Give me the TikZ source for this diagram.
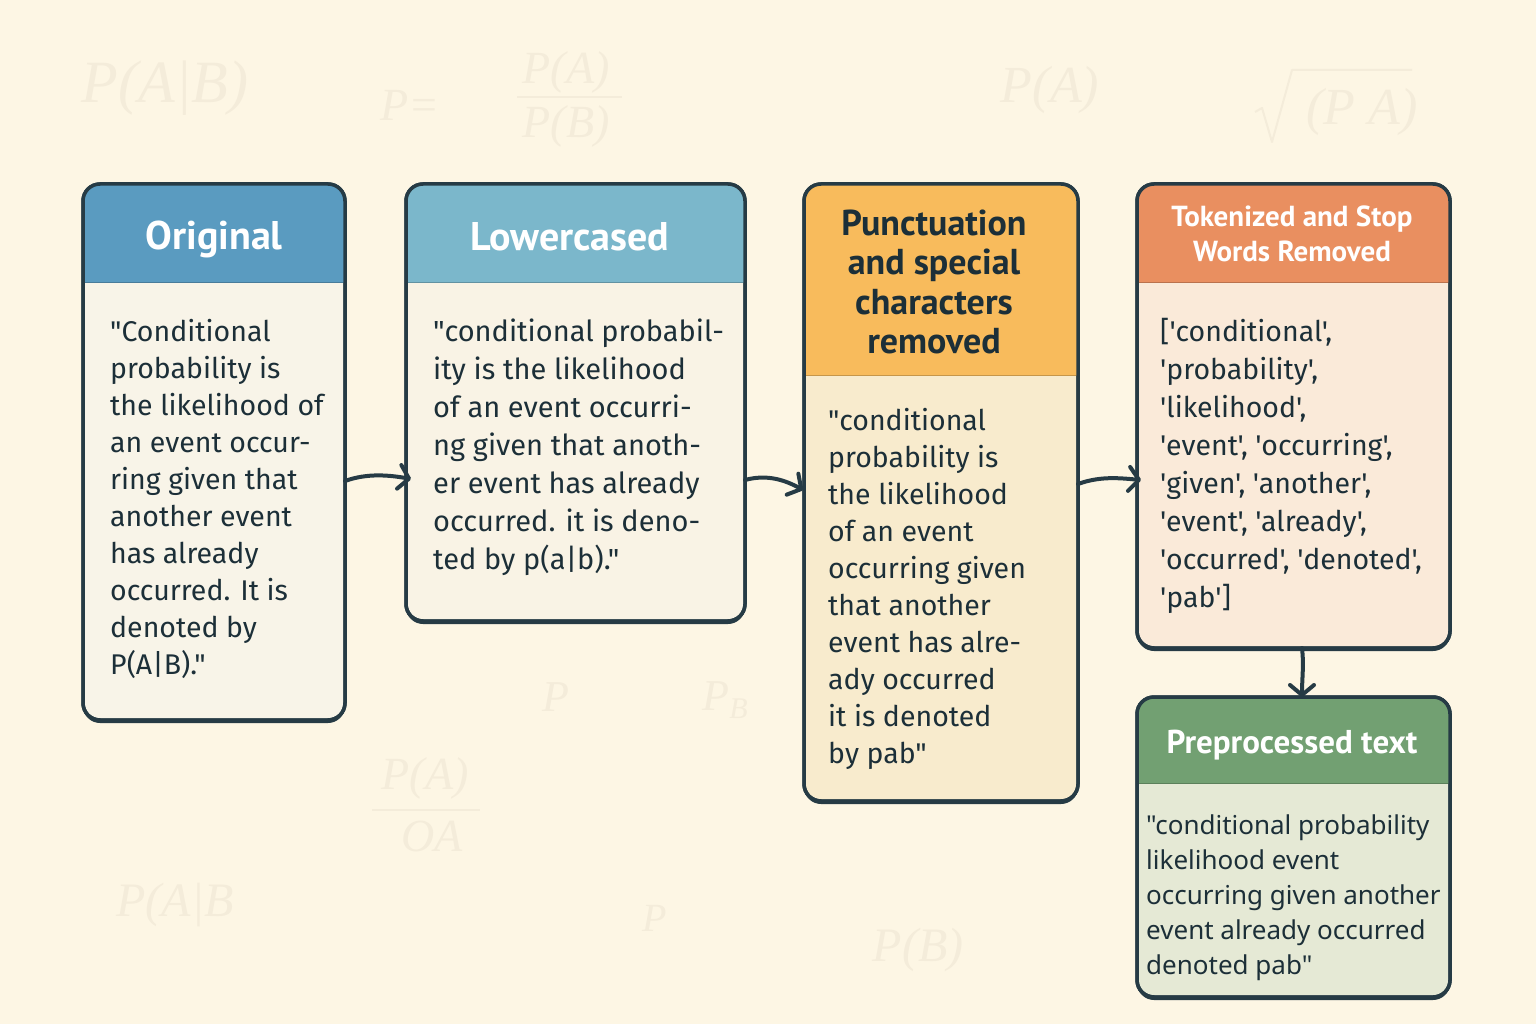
\documentclass[tikz,border=0pt]{standalone}
\usepackage{fontspec}
\setmainfont{PT Sans}
\newfontfamily\bodyfont{Fira Sans}
\newfontfamily\notofont{Noto Sans}
\newfontfamily\wmfont{Liberation Serif}
\usetikzlibrary{arrows.meta,calc}
\definecolor{bg}{HTML}{FDF6E4}
\definecolor{wm}{HTML}{F4ECDA}
\definecolor{ink}{HTML}{1C2F38}
\definecolor{frame}{HTML}{263B45}
\definecolor{hA}{HTML}{5A9BC0}
\definecolor{hB}{HTML}{7BB7CB}
\definecolor{hC}{HTML}{F8BB5C}
\definecolor{hD}{HTML}{E98F60}
\definecolor{hE}{HTML}{72A072}
\definecolor{bA}{HTML}{F8F4E8}
\definecolor{bB}{HTML}{F9F3E5}
\definecolor{bC}{HTML}{F8EBCD}
\definecolor{bD}{HTML}{FAEAD9}
\definecolor{bE}{HTML}{E5E9D5}
\tikzset{
  stageframe/.style={rectangle, rounded corners=17pt, draw=frame, line width=3.5pt, inner sep=0pt, outer sep=0pt},
  bodytext/.style={anchor=base west, align=left, inner sep=0pt, text=ink, font=\bodyfont\fontsize{28.5}{37}\selectfont},
  headtext/.style={align=center, inner sep=0pt, text=white, font=\bfseries\fontsize{40}{44}\selectfont},
  flow/.style={draw=frame, line width=4pt, line cap=round, -{Straight Barb[length=10pt,width=24pt,line cap=round,line join=round]}},
  wmark/.style={text=wm, inner sep=0pt, font=\wmfont\itshape\fontsize{52}{52}\selectfont},
}
\newcommand\stagebox[8]{%
  \fill[frame, rounded corners=17pt] ({#2-#4/2},{#3-#5/2+3}) rectangle ({#2+#4/2},{#3+#5/2+3});
  \node[stageframe, fill=#8, minimum width=#4pt, minimum height=#5pt] (#1) at (#2,#3) {};
  \begin{scope}
    \clip[rounded corners=17pt] (#1.north west) rectangle (#1.south east);
    \fill[#7] (#1.north west) rectangle (#1.east |- 0,#6);
    \draw[#7!80!black, line width=1pt] (#1.west |- 0,#6) -- (#1.east |- 0,#6);
  \end{scope}
  \draw[frame, line width=3.5pt, rounded corners=17pt] (#1.north west) rectangle (#1.south east);
}
\begin{document}
\begin{tikzpicture}[x=1pt,y=-1pt]
\fill[bg] (0,0) rectangle (1536,1024);
\useasboundingbox (0,0) rectangle (1536,1024);
% faint watermark formulas
\node[wmark, font=\wmfont\itshape\fontsize{60}{60}\selectfont] (w1) at (165,88) {P(A|B)};
\node[wmark, font=\wmfont\itshape\fontsize{46}{46}\selectfont] (w2) at (410,105) {P=};
\node[wmark, font=\wmfont\itshape\fontsize{46}{46}\selectfont] (w3) at (566,72) {P(A)};
\draw[wm, line width=2pt] (517,97) -- (622,97);
\node[wmark, font=\wmfont\itshape\fontsize{46}{46}\selectfont] (w4) at (566,126) {P(B)};
\node[wmark] (w5) at (1050,90) {P(A)};
\node[wmark] (w6) at (1362,112) {(P A)};
\draw[wm, line width=2pt, line join=round] (1255,112) -- (1262,108) -- (1272,142) -- (1292,70) -- (1412,70);
\node[wmark, font=\wmfont\itshape\fontsize{44}{44}\selectfont] (w7) at (556,697) {P};
\node[wmark, font=\wmfont\itshape\fontsize{44}{44}\selectfont] (w8) at (725,700) {P\raisebox{-8pt}{\fontsize{30}{30}\selectfont B}};
\node[wmark, font=\wmfont\itshape\fontsize{46}{46}\selectfont] (w9) at (425,778) {P(A)};
\draw[wm, line width=2pt] (372,810) -- (480,810);
\node[wmark, font=\wmfont\itshape\fontsize{46}{46}\selectfont] (w10) at (432,836) {OA};
\node[wmark, font=\wmfont\itshape\fontsize{48}{48}\selectfont] (w11) at (175,905) {P(A|B};
\node[wmark, font=\wmfont\itshape\fontsize{40}{40}\selectfont] (w12) at (655,918) {P};
\node[wmark, font=\wmfont\itshape\fontsize{48}{48}\selectfont] (w13) at (918,950) {P(B)};
% stage boxes
\stagebox{b1}{214}{452}{262}{536}{283}{hA}{bA}
\stagebox{b2}{575.5}{402.5}{339}{437}{283}{hB}{bB}
\stagebox{b3}{941}{492.5}{274}{617}{375}{hC}{bC}
\stagebox{b4}{1293.5}{416}{313}{464}{283}{hD}{bD}
\stagebox{b5}{1293.5}{847}{313}{300}{783}{hE}{bE}
% headers
\node[headtext] (h1) at (214,239) {Original};
\node[headtext] (h2) at (570,237) {Lowercased};
\node[headtext, text=ink, font=\bfseries\fontsize{36}{39.5}\selectfont] (h3) at (934,282) {Punctuation\\and special\\characters\\removed};
\node[headtext, font=\bfseries\fontsize{29}{35}\selectfont] (h4) at (1292,234) {Tokenized and Stop\\Words Removed};
\node[headtext, font=\bfseries\fontsize{33}{35}\selectfont] (h5) at (1292,745) {Preprocessed text};
% bodies (base anchor = baseline of the last line)
\node[bodytext] (t1) at (110,674) {"Conditional\\probability is\\the likelihood of\\an event occur-\\ring given that\\another event\\has already\\occurred. It is\\denoted by\\P(A|B)."};
\node[bodytext, font=\bodyfont\fontsize{29}{38}\selectfont] (t2) at (433,569) {"conditional probabil-\\ity is the likelihood\\of an event occurri-\\ng given that anoth-\\er event has already\\occurred. it is deno-\\ted by p(a|b)."};
\node[bodytext] (t3) at (828,763) {"conditional\\probability is\\the likelihood\\of an event\\occurring given\\that another\\event has alre-\\ady occurred\\it is denoted\\by pab"};
\node[bodytext, font=\bodyfont\fontsize{28.5}{38}\selectfont] (t4) at (1160,607) {['conditional',\\'probability',\\'likelihood',\\'event', 'occurring',\\'given', 'another',\\'event', 'already',\\'occurred', 'denoted',\\'pab']};
\node[bodytext, font=\notofont\fontsize{26}{35}\selectfont] (t5) at (1146,974) {"conditional probability\\likelihood event\\occurring given another\\event already occurred\\denoted pab"};
% connectors
\draw[flow] ([yshift=-29pt]b1.east) .. controls +(22,-8) and +(-22,-4) .. ([xshift=5pt,yshift=-76.5pt]b2.west);
\draw[flow] ([yshift=-77.5pt]b2.east) .. controls +(22,-6) and +(-18,-10) .. ([xshift=-1pt,yshift=2.5pt]b3.west);
\draw[flow] ([yshift=8.5pt]b3.east) .. controls +(22,-8) and +(-22,-2) .. ([xshift=4pt,yshift=-64pt]b4.west);
\draw[flow] ([xshift=8.5pt]b4.south) .. controls +(2,18) and +(0,-20) .. ([xshift=8.5pt]b5.north);
\end{tikzpicture}
\end{document}
